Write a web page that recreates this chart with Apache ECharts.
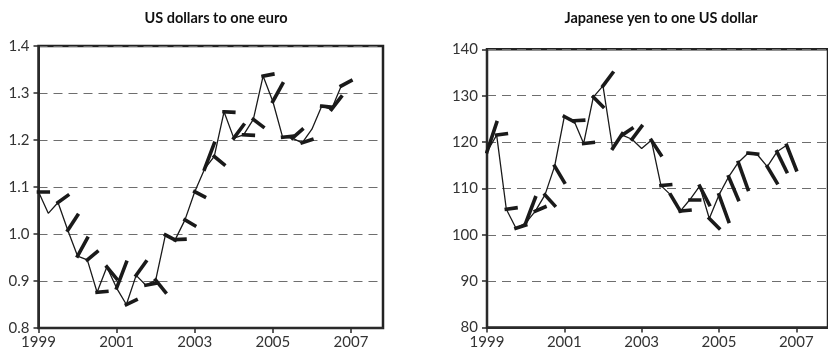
<!DOCTYPE html>
<html>
<head>
<meta charset="utf-8">
<script src="https://cdn.jsdelivr.net/npm/echarts@6/dist/echarts.min.js"></script>
<style>
html,body{margin:0;padding:0;background:#fff;}
#chart{width:828px;height:364px;}
</style>
</head>
<body>
<div id="chart"></div>
<script>
// Quarterly observation dates (decimal years)
const quarters = [1999.00,1999.25,1999.50,1999.75,2000.00,2000.25,2000.50,2000.75,
  2001.00,2001.25,2001.50,2001.75,2002.00,2002.25,2002.50,2002.75,
  2003.00,2003.25,2003.50,2003.75,2004.00,2004.25,2004.50,2004.75,
  2005.00,2005.25,2005.50,2005.75,2006.00,2006.25,2006.50,2006.75];
// Forecast horizon of each hair (years)
const hairSpan = 0.25;

// US dollars to one euro: actual and forecast one quarter ahead
const usdActual = [1.090,1.044,1.067,1.008,0.953,0.945,0.876,0.930,
  0.885,0.850,0.912,0.891,0.902,0.998,0.988,1.030,
  1.090,1.138,1.165,1.260,1.204,1.211,1.244,1.336,
  1.282,1.206,1.204,1.194,1.223,1.272,1.265,1.315];
const usdForecast = [1.090,null,1.082,1.040,0.991,0.962,0.878,0.905,
  0.940,0.860,0.941,0.895,0.876,0.987,0.989,1.018,
  1.079,1.193,1.148,1.259,1.232,1.210,1.228,1.340,
  1.320,1.208,1.222,1.201,null,1.270,1.292,1.326];

// Japanese yen to one US dollar: actual and forecast
const jpyActual = [117.9,121.5,105.5,101.4,102.5,105.1,108.6,114.8,
  125.5,124.6,119.7,129.7,132.1,118.6,121.5,120.6,
  118.6,120.4,110.6,108.6,105.1,107.6,110.5,103.5,
  108.6,112.5,115.6,117.6,117.2,114.7,117.9,119.3];
const jpyForecast = [124.2,121.8,105.8,102.1,108.0,106.0,106.3,111.3,
  124.4,124.7,119.9,127.6,134.9,121.8,122.9,123.4,
  null,117.2,110.8,105.1,105.3,107.6,106.5,101.4,
  102.9,107.6,109.8,117.4,null,111.2,113.6,114.0];

const yearLabels = [1999, 2001, 2003, 2005, 2007];
const titles = ['US dollars to one euro', 'Japanese yen to one US dollar'];

const FONT = 'Lato, "Open Sans", sans-serif';
const INK = '#1a1a1a';

function pairs(xs, ys){ return xs.map((x,i)=>[x, ys[i]]); }
function hairs(xs, ys, fs){
  const out = [];
  xs.forEach((x,i)=>{ if (fs[i] != null) out.push({coords:[[x, ys[i]], [x + hairSpan, fs[i]]]}); });
  return out;
}

function xAxis(idx){
  return {
    type:'value', gridIndex: idx, min: 1999, max: 2007.82,
    axisLine:{show:true, lineStyle:{color:'#2a2a2a', width:2}},
    axisTick:{show:true, length:5, customValues: yearLabels, lineStyle:{color:'#2a2a2a', width:1.5}},
    axisLabel:{customValues: yearLabels, color:'#333', fontFamily: FONT, fontSize:15, margin:7,
      formatter: v => String(Math.round(v))},
    splitLine:{show:false}
  };
}
function yAxis(idx, min, max, interval, dec){
  return {
    type:'value', gridIndex: idx, min, max, interval,
    axisLine:{show:true, lineStyle:{color:'#2a2a2a', width:2}},
    axisTick:{show:true, length:5, lineStyle:{color:'#2a2a2a', width:1.5}},
    axisLabel:{color:'#333', fontFamily: FONT, fontSize:15, margin:9,
      formatter: v => v.toFixed(dec)},
    splitLine:{show:true, lineStyle:{color:'#6e6e6e', width:1, type:[9,6]}}
  };
}

const chart = echarts.init(document.getElementById('chart'), null, {renderer:'canvas'});
chart.setOption({
  animation:false,
  backgroundColor:'#fff',
  title:[
    {text: titles[0], left: 211, top: 6, textAlign:'center',
     textStyle:{fontFamily: FONT, fontWeight:'bold', fontSize:14.5, color:'#111'}},
    {text: titles[1], left: 656, top: 6, textAlign:'center',
     textStyle:{fontFamily: FONT, fontWeight:'bold', fontSize:14.5, color:'#111'}}
  ],
  grid:[
    {left:38.5, top:46, width:344.5, height:282, show:true, borderColor:'#222', borderWidth:2.5, backgroundColor:'transparent'},
    {left:487, top:49.3, width:344.5, height:278.2, show:true, borderColor:'#222', borderWidth:2.5, backgroundColor:'transparent'}
  ],
  xAxis:[xAxis(0), xAxis(1)],
  yAxis:[yAxis(0, 0.8, 1.4, 0.1, 1), yAxis(1, 80, 140, 10, 0)],
  series:[
    {type:'line', xAxisIndex:0, yAxisIndex:0, data: pairs(quarters, usdActual), symbol:'none',
     lineStyle:{color:INK, width:1.3}},
    {type:'lines', coordinateSystem:'cartesian2d', xAxisIndex:0, yAxisIndex:0,
     data: hairs(quarters, usdActual, usdForecast), lineStyle:{color:INK, width:3.6, cap:'square', opacity:1}},
    {type:'line', xAxisIndex:1, yAxisIndex:1, data: pairs(quarters, jpyActual), symbol:'none',
     lineStyle:{color:INK, width:1.3}},
    {type:'lines', coordinateSystem:'cartesian2d', xAxisIndex:1, yAxisIndex:1,
     data: hairs(quarters, jpyActual, jpyForecast), lineStyle:{color:INK, width:3.6, cap:'square', opacity:1}}
  ]
});
</script>
</body>
</html>
